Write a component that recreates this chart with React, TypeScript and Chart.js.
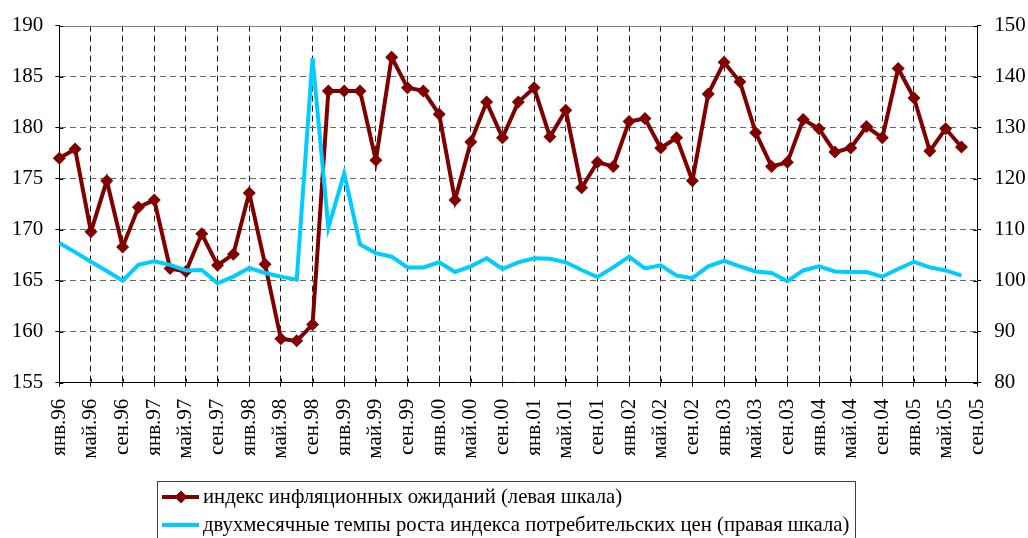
import React, { useEffect, useRef } from "react";
import { Chart, registerables } from "chart.js";

Chart.register(...registerables);

const LABELS = [
  "янв.96", "мар.96", "май.96", "июл.96", "сен.96", "ноя.96",
  "янв.97", "мар.97", "май.97", "июл.97", "сен.97", "ноя.97",
  "янв.98", "мар.98", "май.98", "июл.98", "сен.98", "ноя.98",
  "янв.99", "мар.99", "май.99", "июл.99", "сен.99", "ноя.99",
  "янв.00", "мар.00", "май.00", "июл.00", "сен.00", "ноя.00",
  "янв.01", "мар.01", "май.01", "июл.01", "сен.01", "ноя.01",
  "янв.02", "мар.02", "май.02", "июл.02", "сен.02", "ноя.02",
  "янв.03", "мар.03", "май.03", "июл.03", "сен.03", "ноя.03",
  "янв.04", "мар.04", "май.04", "июл.04", "сен.04", "ноя.04",
  "янв.05", "мар.05", "май.05", "июл.05", "сен.05",
];

// индекс инфляционных ожиданий (левая шкала)
const INFLATION_EXPECTATIONS = [
  177.0, 177.9, 169.8, 174.8, 168.3, 172.2,
  172.9, 166.2, 165.9, 169.6, 166.5, 167.6,
  173.6, 166.6, 159.3, 159.1, 160.7, 183.6,
  183.6, 183.6, 176.8, 186.9, 183.9, 183.6,
  181.3, 172.9, 178.6, 182.5, 179.0, 182.5,
  183.9, 179.1, 181.7, 174.1, 176.6, 176.2,
  180.6, 180.9, 178.0, 179.0, 174.8, 183.3,
  186.4, 184.5, 179.5, 176.2, 176.6, 180.8,
  179.9, 177.6, 178.0, 180.1, 179.0, 185.8,
  182.9, 177.7, 179.9, 178.1,
];

// двухмесячные темпы роста индекса потребительских цен (правая шкала)
const CPI_TWO_MONTH = [
  107.4, 105.6, 103.7, 101.9, 100.0, 103.1,
  103.8, 103.1, 102.0, 102.1, 99.5, 100.8,
  102.5, 101.5, 100.8, 100.2, 143.6, 110.4,
  121.0, 107.1, 105.4, 104.7, 102.6, 102.6,
  103.6, 101.7, 102.8, 104.4, 102.3, 103.6,
  104.4, 104.3, 103.6, 102.1, 100.7, 102.6,
  104.7, 102.4, 103.0, 101.0, 100.5, 102.8,
  103.9, 102.8, 101.8, 101.5, 99.9, 102.0,
  102.8, 101.8, 101.7, 101.7, 100.8, 102.3,
  103.7, 102.6, 102.0, 101.0,
];

const LEFT_MIN = 155;
const LEFT_MAX = 190;
const LEFT_STEP = 5;
const RIGHT_MIN = 80;
const RIGHT_MAX = 150;
const RIGHT_STEP = 10;

const SERIES_NAMES = [
  "индекс инфляционных ожиданий (левая шкала)",
  "двухмесячные темпы роста индекса потребительских цен (правая шкала)",
];

const RED = "#800000";
const CYAN = "#00CCFF";
const FONT = "'Liberation Serif', 'Times New Roman', serif";

const frameLegendPlugin = {
  id: "frameLegend",
  beforeDatasetsDraw(chart: any) {
    const { ctx, chartArea } = chart;
    ctx.save();
    ctx.strokeStyle = "#808080";
    ctx.lineWidth = 1;
    ctx.beginPath();
    ctx.moveTo(chartArea.left, Math.round(chartArea.top) + 0.5);
    ctx.lineTo(chartArea.right, Math.round(chartArea.top) + 0.5);
    ctx.stroke();
    ctx.restore();
  },
  afterDraw(chart: any) {
    const { ctx, chartArea, scales } = chart;
    ctx.save();
    // inner half of crossing tick marks
    ctx.strokeStyle = "#000";
    ctx.lineWidth = 1;
    ctx.beginPath();
    const xs = scales.x;
    for (let i = 0; i < LABELS.length; i += 2) {
      const px = Math.round(xs.getPixelForValue(i)) + 0.5;
      ctx.moveTo(px, chartArea.bottom);
      ctx.lineTo(px, chartArea.bottom - 4);
    }
    const yl = scales.y;
    yl.ticks.forEach((t: any) => {
      const py = Math.round(yl.getPixelForValue(t.value)) + 0.5;
      ctx.moveTo(chartArea.left, py);
      ctx.lineTo(chartArea.left + 4, py);
    });
    const yr = scales.y1;
    yr.ticks.forEach((t: any) => {
      const py = Math.round(yr.getPixelForValue(t.value)) + 0.5;
      ctx.moveTo(chartArea.right, py);
      ctx.lineTo(chartArea.right - 4, py);
    });
    ctx.stroke();

    // legend box
    const bx = 157.5;
    const by = 481.5;
    ctx.strokeStyle = "#404040";
    ctx.lineWidth = 1;
    ctx.strokeRect(bx, by, 698, 70);

    const rows = [
      { y: 497, color: RED, marker: true },
      { y: 525, color: CYAN, marker: false },
    ];
    rows.forEach((r, i) => {
      ctx.strokeStyle = r.color;
      ctx.lineWidth = 4;
      ctx.beginPath();
      ctx.moveTo(162, r.y);
      ctx.lineTo(199, r.y);
      ctx.stroke();
      if (r.marker) {
        ctx.fillStyle = r.color;
        ctx.beginPath();
        ctx.moveTo(181 - 6.5, r.y);
        ctx.lineTo(181, r.y - 6.5);
        ctx.lineTo(181 + 6.5, r.y);
        ctx.lineTo(181, r.y + 6.5);
        ctx.closePath();
        ctx.fill();
      }
      ctx.fillStyle = "#000";
      ctx.font = `20.7px ${FONT}`;
      ctx.textAlign = "left";
      ctx.textBaseline = "middle";
      ctx.fillText(SERIES_NAMES[i], 203, r.y + 1);
    });
    ctx.restore();
  },
};

export default function App() {
  const ref = useRef<HTMLCanvasElement | null>(null);

  useEffect(() => {
    if (!ref.current) return;
    const chart = new Chart(ref.current, {
      type: "line",
      data: {
        labels: LABELS,
        datasets: [
          {
            label: SERIES_NAMES[0],
            data: INFLATION_EXPECTATIONS,
            yAxisID: "y",
            borderColor: RED,
            backgroundColor: RED,
            borderWidth: 4,
            pointStyle: "rectRot",
            pointRadius: 6.5,
            pointBorderWidth: 0,
            pointBackgroundColor: RED,
            tension: 0,
            order: 2,
          },
          {
            label: SERIES_NAMES[1],
            data: CPI_TWO_MONTH,
            yAxisID: "y1",
            borderColor: CYAN,
            backgroundColor: CYAN,
            borderWidth: 4,
            pointRadius: 0,
            tension: 0,
            order: 1,
          },
        ],
      },
      options: {
        responsive: false,
        animation: false,
        devicePixelRatio: 1,
        layout: { padding: { top: 24, left: 0, right: 0, bottom: 0 } },
        plugins: {
          legend: { display: false },
          tooltip: { enabled: false },
          title: { display: false },
        },
        scales: {
          x: {
            type: "category",
            offset: false,
            afterFit: (s: any) => {
              s.height = 538 - 382.7;
            },
            grid: {
              color: (c: any) => (c.index % 2 === 0 ? "#1a1a1a" : "rgba(0,0,0,0)"),
              tickColor: (c: any) => (c.index % 2 === 0 ? "#000" : "rgba(0,0,0,0)"),
              tickLength: 4,
              lineWidth: 1,
            },
            border: { display: true, color: "#000", width: 1, dash: [6, 4] },
            ticks: {
              autoSkip: false,
              minRotation: 90,
              maxRotation: 90,
              padding: 12,
              color: "#000",
              font: { family: FONT, size: 21 },
              callback: function (this: any, value: any, index: number) {
                return index % 2 === 0 ? LABELS[index] : "";
              },
            },
          },
          y: {
            type: "linear",
            position: "left",
            min: LEFT_MIN,
            max: LEFT_MAX,
            afterFit: (s: any) => {
              s.width = 59.3;
            },
            grid: {
              color: (c: any) =>
                c.tick && (c.tick.value === LEFT_MAX || c.tick.value === LEFT_MIN)
                  ? "rgba(0,0,0,0)"
                  : "#666",
              tickColor: "#000",
              tickLength: 4,
              lineWidth: 1,
            },
            border: { display: true, color: "#000", width: 1, dash: [6, 4] },
            ticks: {
              stepSize: LEFT_STEP,
              padding: 12,
              color: "#000",
              font: { family: FONT, size: 21 },
            },
          },
          y1: {
            type: "linear",
            position: "right",
            min: RIGHT_MIN,
            max: RIGHT_MAX,
            afterFit: (s: any) => {
              s.width = 1028 - 977.3;
            },
            grid: {
              drawOnChartArea: false,
              tickColor: "#000",
              tickLength: 4,
            },
            border: { display: true, color: "#000", width: 1 },
            ticks: {
              stepSize: RIGHT_STEP,
              padding: 13,
              color: "#000",
              font: { family: FONT, size: 21 },
            },
          },
        },
      },
      plugins: [frameLegendPlugin],
    });
    return () => chart.destroy();
  }, []);

  return (
    <div style={{ position: "absolute", left: 0, top: 0, width: 1028, height: 538, background: "#fff" }}>
      <canvas ref={ref} width={1028} height={538} style={{ display: "block" }} />
    </div>
  );
}
